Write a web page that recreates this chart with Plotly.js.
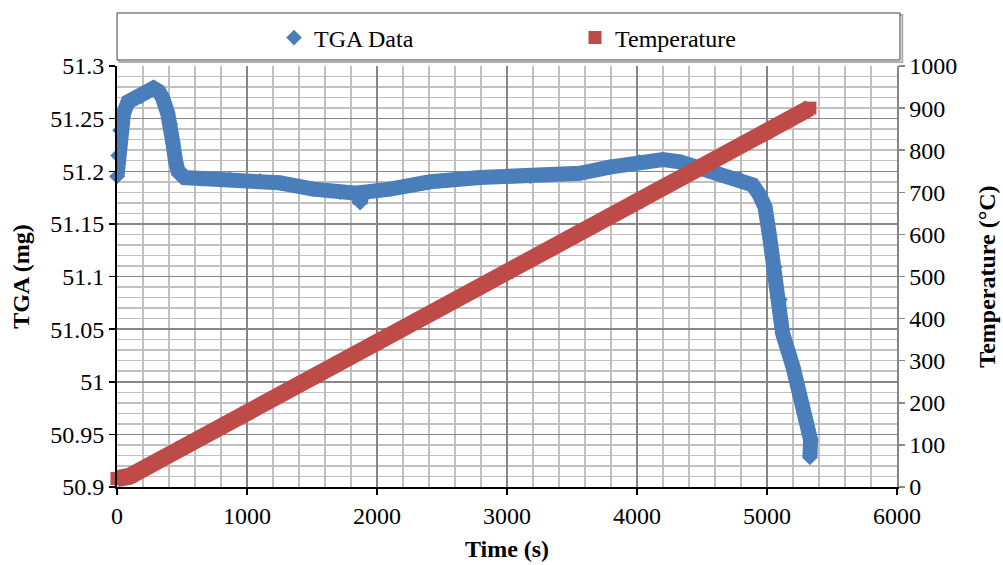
<!DOCTYPE html>
<html>
<head>
<meta charset="utf-8">
<script src="https://cdn.plot.ly/plotly-3.0.1.min.js"></script>
<style>html,body{margin:0;padding:0;background:#fff;}#chart{width:1003px;height:565px;}</style>
</head>
<body>
<div id="chart"></div>
<script>
// TGA data (time in s, mass in mg)
var tgaTime = [0, 8, 23, 50, 85, 140, 190, 240, 280, 320, 350, 390, 410, 430, 450, 470, 520, 650, 870, 1100, 1250, 1510, 1715, 1850, 1870, 1890, 2100, 2410, 2790, 3180, 3560, 3790, 4020, 4200, 4330, 4485, 4640, 4790, 4890, 4940, 4985, 5020, 5060, 5100, 5120, 5200, 5255, 5300, 5335, 5330];
var tgaMass = [51.195, 51.215, 51.239, 51.255, 51.266, 51.270, 51.271, 51.275, 51.279, 51.276, 51.270, 51.255, 51.245, 51.227, 51.210, 51.200, 51.194, 51.193, 51.192, 51.191, 51.189, 51.183, 51.180, 51.179, 51.170, 51.180, 51.183, 51.190, 51.194, 51.195, 51.198, 51.204, 51.209, 51.211, 51.209, 51.203, 51.197, 51.193, 51.187, 51.178, 51.166, 51.138, 51.109, 51.078, 51.046, 51.014, 50.985, 50.962, 50.945, 50.928];
// Temperature (time in s, temperature in °C)
var tempTime = [0, 30, 60, 100, 500, 1000, 1500, 2000, 2500, 3000, 3500, 4000, 4500, 5000, 5330];
var tempVal = [20, 20, 21, 26, 93, 176, 260, 343, 427, 510, 594, 677, 761, 844, 900];
// Axis ticks
var xTicks = [0, 1000, 2000, 3000, 4000, 5000, 6000];
var yLeftTicks = [50.9, 50.95, 51, 51.05, 51.1, 51.15, 51.2, 51.25, 51.3];
var yLeftLabels = ['50.9', '50.95', '51', '51.05', '51.1', '51.15', '51.2', '51.25', '51.3'];
var yRightTicks = [0, 100, 200, 300, 400, 500, 600, 700, 800, 900, 1000];

var blue = '#4A7EBB', red = '#BE4B48';
var font = "'Liberation Serif', 'Times New Roman', serif";

var traces = [
  {x: tgaTime, y: tgaMass, mode: 'lines', line: {color: blue, width: 15}, showlegend: false, hoverinfo: 'skip'},
  {x: tgaTime, y: tgaMass, mode: 'markers', name: 'TGA Data', marker: {symbol: 'diamond', size: 12, color: blue}, cliponaxis: false},
  {x: tempTime, y: tempVal, yaxis: 'y2', mode: 'lines', line: {color: red, width: 17}, showlegend: false, hoverinfo: 'skip'},
  {x: tempTime, y: tempVal, yaxis: 'y2', mode: 'markers', name: 'Temperature', marker: {symbol: 'square', size: 13, color: red}, cliponaxis: false}
];

var layout = {
  width: 1003, height: 565,
  margin: {l: 117, r: 106, t: 66, b: 78},
  paper_bgcolor: '#fff', plot_bgcolor: '#fff',
  font: {family: font, size: 24, color: '#000'},
  showlegend: true,
  legend: {orientation: 'h', x: 0.2013, xanchor: 'left', y: 1.0665, yanchor: 'middle',
           bgcolor: 'rgba(0,0,0,0)', font: {family: font, size: 24, color: '#000'}, entrywidth: 256, itemwidth: 30},
  xaxis: {
    range: [0, 6000], tickmode: 'array', tickvals: xTicks,
    tickfont: {family: font, size: 24, color: '#000'},
    showline: true, linecolor: '#000', linewidth: 2,
    ticks: 'outside', ticklen: 6, tickcolor: '#000', tickwidth: 1.5,
    showgrid: true, gridcolor: '#868686', gridwidth: 1.5,
    minor: {tickmode: 'linear', tick0: 0, dtick: 200, showgrid: true, gridcolor: '#c0c0c0', gridwidth: 1.5, ticks: ''},
    zeroline: false,
    title: {text: '<b>Time (s)</b>', font: {family: font, size: 24, color: '#000'}, standoff: 12}
  },
  yaxis: {
    range: [50.9, 51.3], tickmode: 'array', tickvals: yLeftTicks, ticktext: yLeftLabels,
    tickfont: {family: font, size: 24, color: '#000'},
    showline: true, linecolor: '#000', linewidth: 2,
    ticks: 'outside', ticklen: 6, tickcolor: '#000', tickwidth: 1.5,
    showgrid: true, gridcolor: '#868686', gridwidth: 1.5,
    minor: {tickmode: 'linear', tick0: 50.9, dtick: 0.01, showgrid: true, gridcolor: '#c0c0c0', gridwidth: 1.5, ticks: ''},
    zeroline: false,
    title: {text: '<b>TGA (mg)</b>', font: {family: font, size: 24, color: '#000'}, standoff: 14}
  },
  yaxis2: {
    range: [0, 1000], tickmode: 'array', tickvals: yRightTicks,
    tickfont: {family: font, size: 24, color: '#000'},
    overlaying: 'y', side: 'right',
    showline: true, linecolor: '#868686', linewidth: 1.5,
    ticks: 'outside', ticklen: 6, tickcolor: '#868686', tickwidth: 1.5,
    showgrid: false, zeroline: false,
    title: {text: '<b>Temperature (°C)</b>', font: {family: font, size: 24, color: '#000'}, standoff: 22}
  },
  shapes: [
    {type: 'rect', xref: 'paper', yref: 'paper', x0: 0.003, x1: 1.0068, y0: 1.0095, y1: 1.121,
     line: {color: '#b0b0b0', width: 2}, fillcolor: 'rgba(0,0,0,0)'},
    {type: 'rect', xref: 'paper', yref: 'paper', x0: 0, x1: 1.0038, y0: 1.0143, y1: 1.1259,
     line: {color: '#404040', width: 1}, fillcolor: '#fff'}
  ]
};

Plotly.newPlot('chart', traces, layout, {displayModeBar: false, staticPlot: true});
</script>
</body>
</html>
